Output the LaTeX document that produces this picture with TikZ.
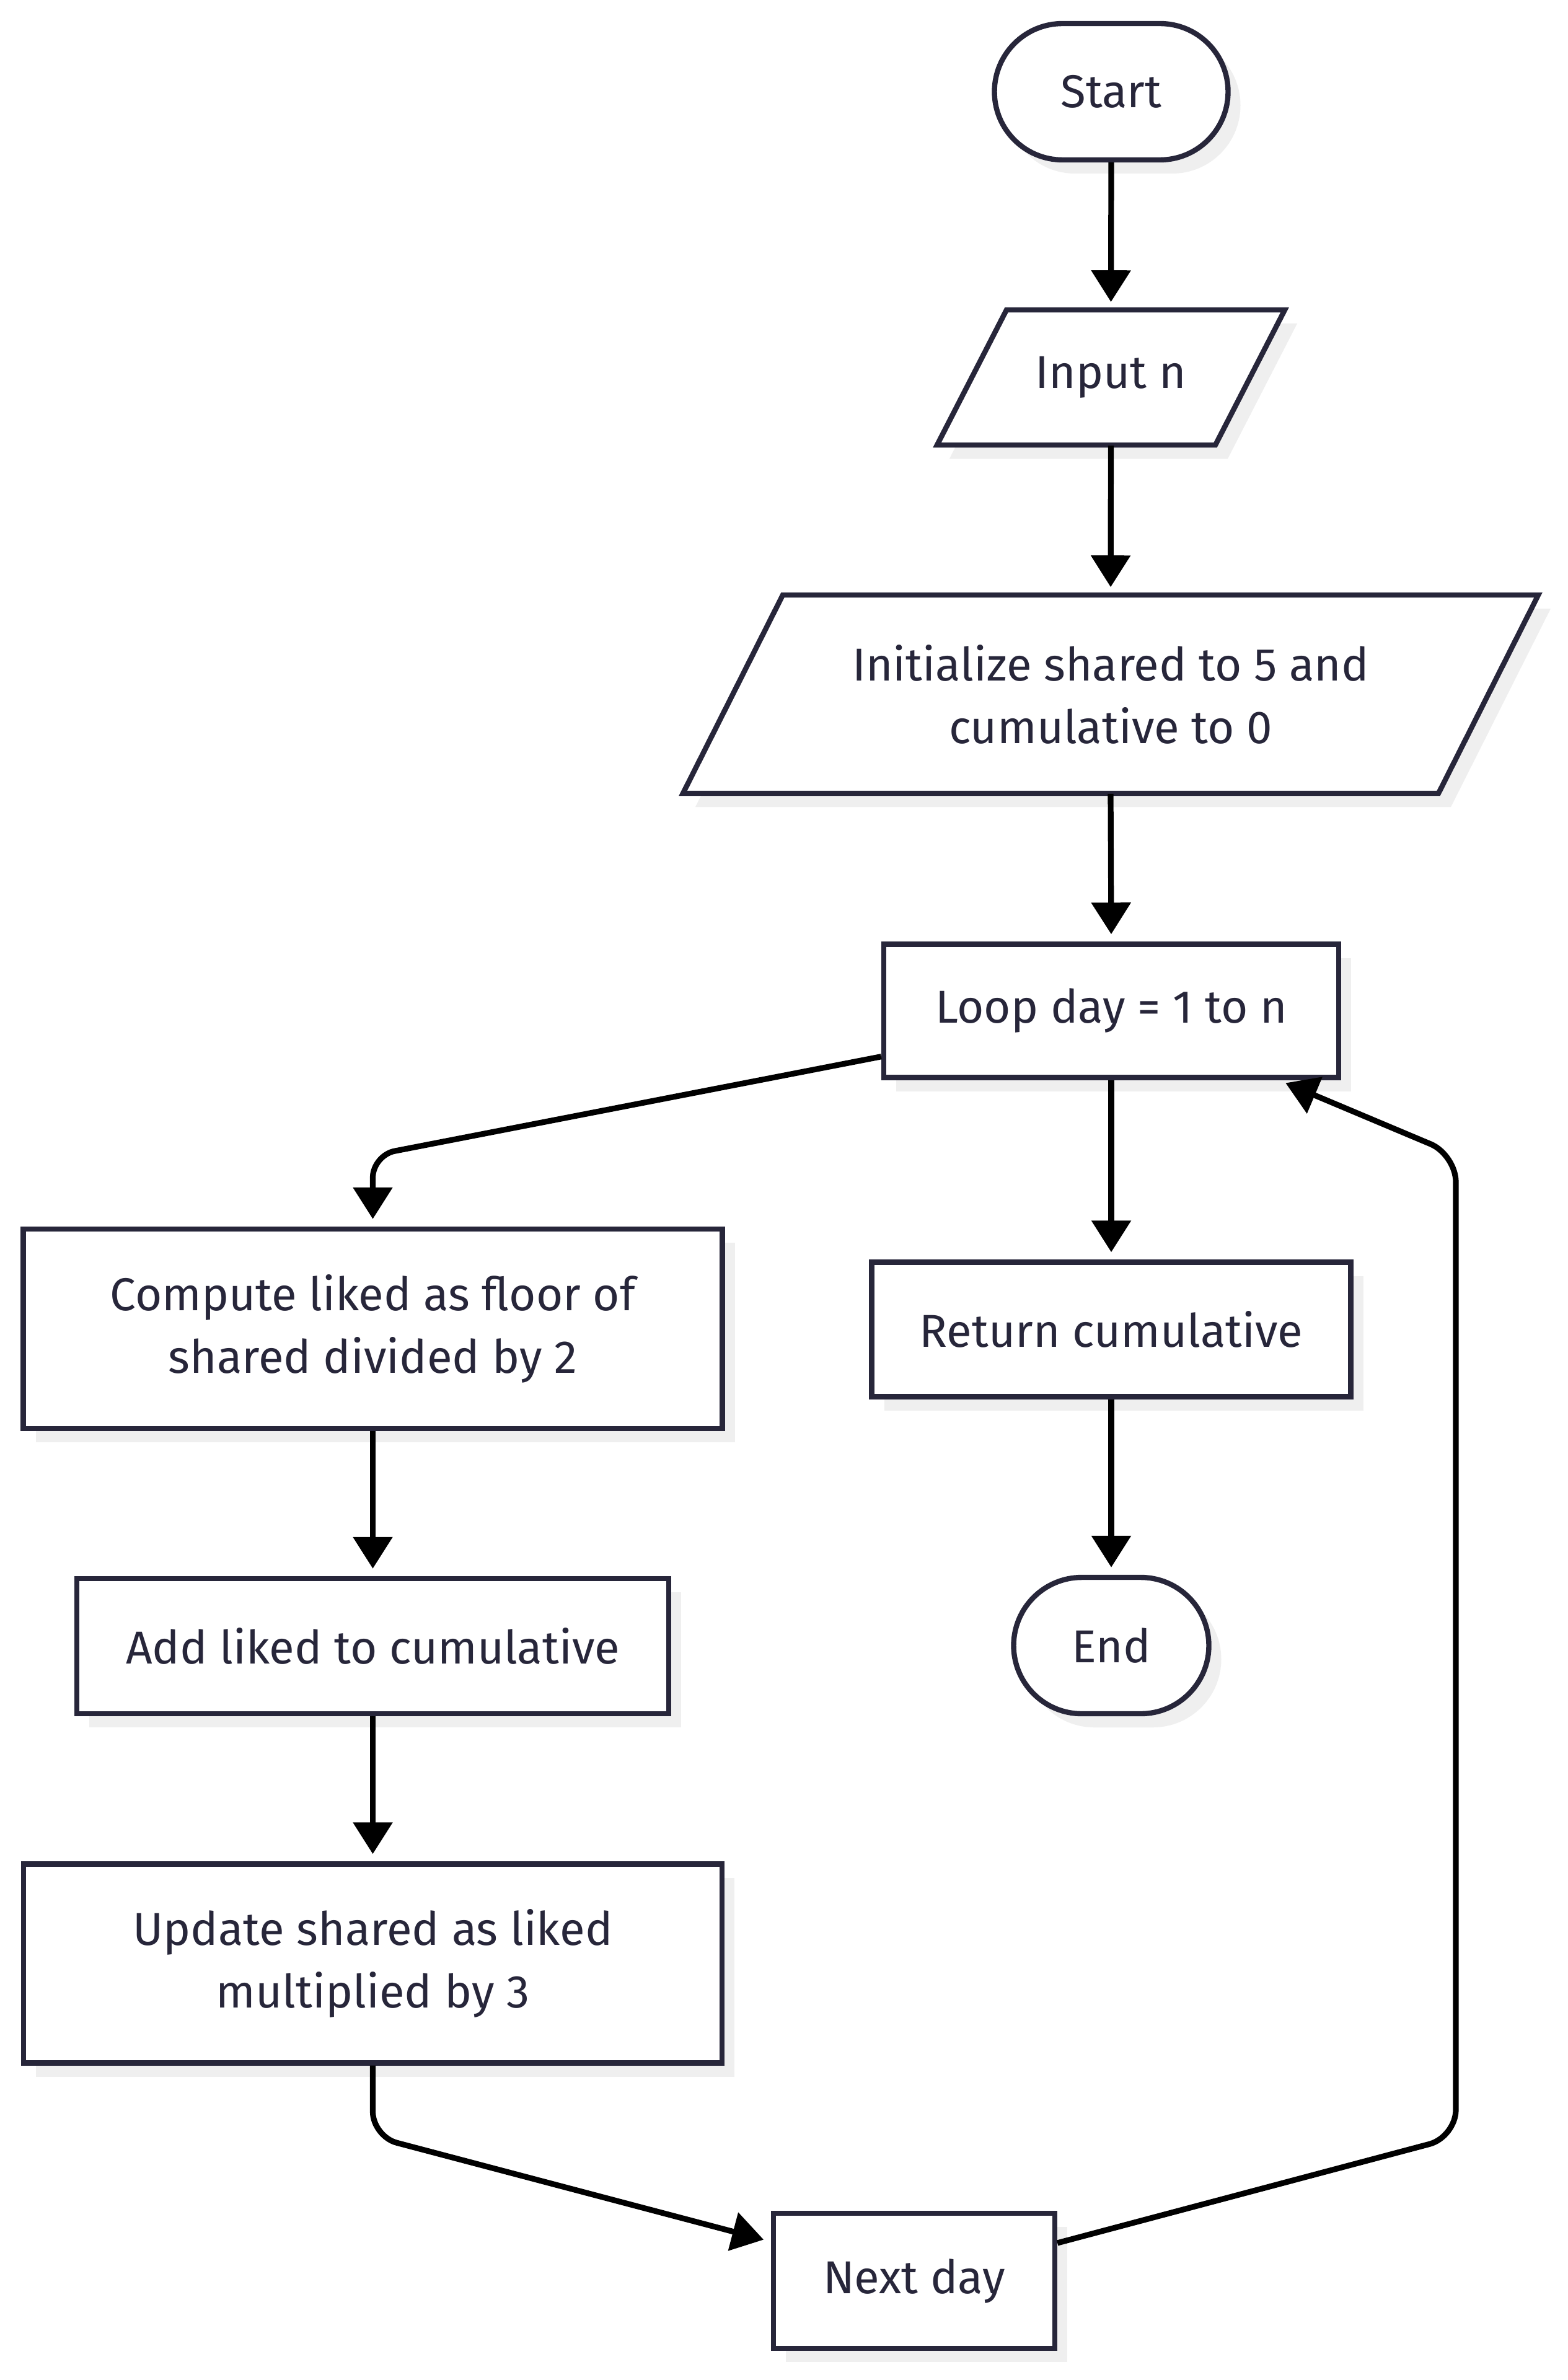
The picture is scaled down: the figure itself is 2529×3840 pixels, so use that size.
\documentclass[tikz,border=0pt]{standalone}
\usepackage{fontspec}
\setmainfont{Fira Sans}
\usetikzlibrary{arrows.meta,shadows,calc}
\definecolor{ink}{HTML}{27263A}
\definecolor{shadowgray}{HTML}{EFEFEF}
\newcommand{\leanbox}[4]{% center, half width, half height, offset
  \fill[shadowgray] ($(#1)+(-#2+20,#3+22)$) -- ($(#1)+(-#2+#4+20,-#3+22)$) -- ($(#1)+(#2+20,-#3+22)$) -- ($(#1)+(#2-#4+20,#3+22)$) -- cycle;
  \filldraw[fill=white, draw=ink, line width=2.1pt] ($(#1)+(-#2,#3)$) -- ($(#1)+(-#2+#4,-#3)$) -- ($(#1)+(#2,-#3)$) -- ($(#1)+(#2-#4,#3)$) -- cycle;
}
\begin{document}
\begin{tikzpicture}[x=0.25pt,y=-0.25pt,
  txt/.style={text=ink, font=\fontsize{18.6}{25.25}\selectfont, align=center, inner sep=0pt},
  base/.style={txt, draw=ink, line width=2.1pt, fill=white,
    drop shadow={shadow xshift=5pt, shadow yshift=-5.5pt, fill=shadowgray, opacity=1}},
  box/.style={base, rectangle},
  term/.style={base, rectangle, rounded corners=27.5pt},
  para/.style={txt, rectangle, draw=none},
  flow/.style={draw=black, line width=2.3pt, -{Triangle[length=12.75pt,width=15.5pt]}, shorten >=3pt},
]
\fill[white] (0,0) rectangle (2529,3840);
\useasboundingbox (0,0) rectangle (2529,3840);

% terminals and boxes
\node[term, minimum width=94.25pt, minimum height=55pt] (start) at (1793,148) {Start};

\coordinate (inc) at (1792.5,609);
\leanbox{inc}{280.5}{109}{112}
\node[para, minimum width=140.25pt, minimum height=54.5pt] (input) at (inc) {Input n};

\coordinate (initc) at (1792,1120);
\leanbox{initc}{690}{160}{161}
\node[para, minimum width=345pt, minimum height=80pt] (init) at (initc) {Initialize shared to 5 and\\cumulative to 0};

\node[box, minimum width=183.5pt, minimum height=53.75pt] (loop) at (1793,1631) {Loop day = 1 to n};
\node[box, minimum width=282pt, minimum height=80.5pt] (compute) at (601.5,2144) {Compute liked as floor of\\shared divided by 2};
\node[box, minimum width=193.25pt, minimum height=54.25pt] (ret) at (1793,2145) {Return cumulative};
\node[box, minimum width=238.75pt, minimum height=54.5pt] (add) at (601.5,2656) {Add liked to cumulative};
\node[term, minimum width=78.75pt, minimum height=55pt] (end) at (1793,2655) {End};
\node[box, minimum width=281.75pt, minimum height=80.25pt] (update) at (601.5,3168) {Update shared as liked\\multiplied by 3};
\node[box, minimum width=113.5pt, minimum height=54.5pt] (next) at (1475,3680) {Next day};

% bend points
\coordinate (bendA) at (601.5,1864);
\coordinate (bendB) at (601.5,3447);
\coordinate (bendC) at (2349,3448);
\coordinate (bendD) at (2349,1863);

% connectors
\draw[flow] (start.south) -- (input.north);
\draw[flow] (input.south) -- (init.north);
\draw[flow] (init.south) -- (loop.north);
\draw[flow, rounded corners=9pt] ($(loop.south west)!0.17!(loop.north west)$) -- (bendA) -- (compute.north);
\draw[flow] (loop.south) -- (ret.north);
\draw[flow] (compute.south) -- (add.north);
\draw[flow] (ret.south) -- (end.north);
\draw[flow] (add.south) -- (update.north);
\draw[flow, rounded corners=10pt] (update.south) -- (bendB) -- ($(next.north west)!0.22!(next.south west)$);
\draw[flow, rounded corners=11pt] ($(next.north east)!0.23!(next.south east)$) -- (bendC) -- (bendD) -- ($(loop.south west)!0.864!(loop.south east)$);
\end{tikzpicture}
\end{document}
